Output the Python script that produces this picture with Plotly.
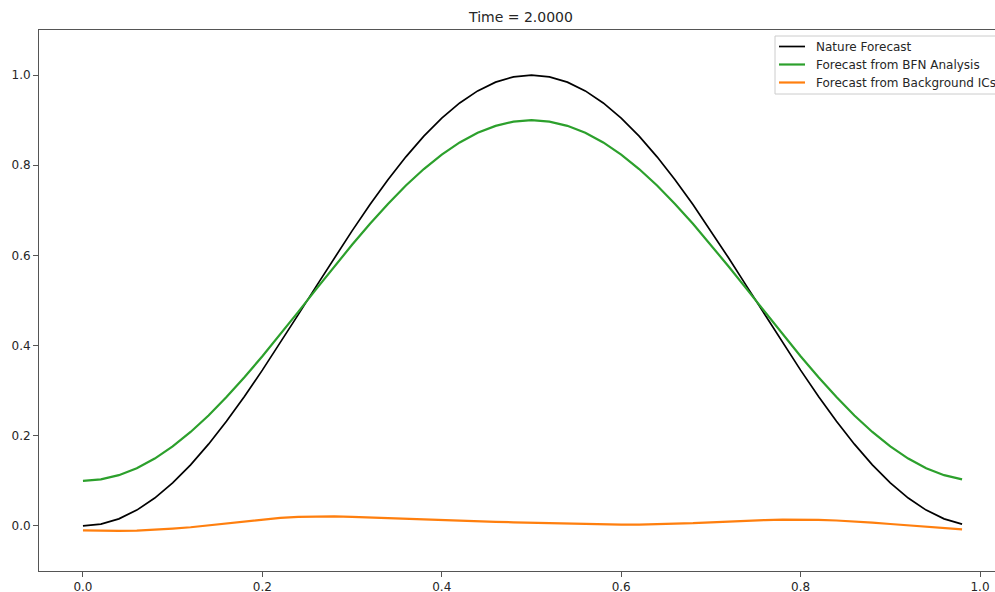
import plotly.graph_objects as go

x_vals = [0.00, 0.02, 0.04, 0.06, 0.08, 0.10, 0.12, 0.14, 0.16, 0.18,
          0.20, 0.22, 0.24, 0.26, 0.28, 0.30, 0.32, 0.34, 0.36, 0.38,
          0.40, 0.42, 0.44, 0.46, 0.48, 0.50, 0.52, 0.54, 0.56, 0.58,
          0.60, 0.62, 0.64, 0.66, 0.68, 0.70, 0.72, 0.74, 0.76, 0.78,
          0.80, 0.82, 0.84, 0.86, 0.88, 0.90, 0.92, 0.94, 0.96, 0.98]

nature = [0.0000, 0.0039, 0.0157, 0.0351, 0.0618, 0.0955, 0.1355, 0.1813, 0.2321, 0.2871,
          0.3455, 0.4063, 0.4686, 0.5314, 0.5937, 0.6545, 0.7129, 0.7679, 0.8187, 0.8645,
          0.9045, 0.9382, 0.9649, 0.9843, 0.9961, 1.0000, 0.9961, 0.9843, 0.9649, 0.9382,
          0.9045, 0.8645, 0.8187, 0.7679, 0.7129, 0.6545, 0.5937, 0.5314, 0.4686, 0.4063,
          0.3455, 0.2871, 0.2321, 0.1813, 0.1355, 0.0955, 0.0618, 0.0351, 0.0157, 0.0039]

bfn = [0.1000, 0.1032, 0.1126, 0.1281, 0.1494, 0.1764, 0.2084, 0.2450, 0.2857, 0.3297,
       0.3764, 0.4250, 0.4749, 0.5251, 0.5750, 0.6236, 0.6703, 0.7143, 0.7550, 0.7916,
       0.8236, 0.8506, 0.8719, 0.8874, 0.8969, 0.9000, 0.8969, 0.8874, 0.8719, 0.8506,
       0.8236, 0.7916, 0.7550, 0.7143, 0.6703, 0.6236, 0.5750, 0.5251, 0.4749, 0.4250,
       0.3764, 0.3297, 0.2857, 0.2450, 0.2084, 0.1764, 0.1494, 0.1281, 0.1126, 0.1032]

background = [-0.0100, -0.0110, -0.0110, -0.0105, -0.0090, -0.0060, -0.0030, 0.0010, 0.0060, 0.0100,
              0.0140, 0.0180, 0.0200, 0.0210, 0.0210, 0.0200, 0.0185, 0.0165, 0.0150, 0.0135,
              0.0120, 0.0110, 0.0100, 0.0090, 0.0080, 0.0070, 0.0060, 0.0050, 0.0040, 0.0035,
              0.0030, 0.0030, 0.0035, 0.0045, 0.0060, 0.0080, 0.0100, 0.0115, 0.0130, 0.0138,
              0.0140, 0.0135, 0.0120, 0.0100, 0.0072, 0.0042, 0.0012, -0.0020, -0.0050, -0.0075]

series_names = ["Nature Forecast", "Forecast from BFN Analysis", "Forecast from Background ICs"]
series_colors = ["#000000", "#2ca02c", "#ff7f0e"]
series_widths = [1.7, 2.2, 2.2]
x_ticks = [0.0, 0.2, 0.4, 0.6, 0.8, 1.0]
y_ticks = [0.0, 0.2, 0.4, 0.6, 0.8, 1.0]
title_text = "Time = 2.0000"

W, H = 995, 592
L, T, B = 39, 30, 21
plot_w = W - L
plot_h = H - T - B

fig = go.Figure()
for ys, name, col, lw in zip([nature, bfn, background], series_names, series_colors, series_widths):
    fig.add_trace(go.Scatter(x=x_vals, y=ys, mode="lines", name=name,
                             line=dict(color=col, width=lw), showlegend=False))


def px_x(p):
    return (p - L) / plot_w


def px_y(p):
    return 1 - (p - T) / plot_h


# legend drawn manually so that it can run past the right edge like the reference
shapes = [dict(type="rect", xref="paper", yref="paper",
               x0=px_x(775), x1=px_x(1010), y0=px_y(94), y1=px_y(36),
               line=dict(color="#cccccc", width=1), fillcolor="rgba(255,255,255,0.85)", layer="above")]
annotations = []
row_y = [46.5, 64.5, 82.5]
for name, col, lw, ry in zip(series_names, series_colors, series_widths, row_y):
    shapes.append(dict(type="line", xref="paper", yref="paper",
                       x0=px_x(779), x1=px_x(805), y0=px_y(ry), y1=px_y(ry),
                       line=dict(color=col, width=lw), layer="above"))
    annotations.append(dict(text=name, xref="paper", yref="paper", x=px_x(814), y=px_y(ry),
                            xanchor="left", yanchor="middle", showarrow=False,
                            font=dict(family="DejaVu Sans", size=12, color="#262626")))

axis_font = dict(family="DejaVu Sans", size=12, color="#262626")
fig.update_layout(
    width=W, height=H,
    margin=dict(l=L, r=0, t=T, b=B, autoexpand=False),
    plot_bgcolor="white", paper_bgcolor="white",
    font=dict(family="DejaVu Sans", size=12, color="#262626"),
    title=dict(text=title_text, x=521 / W, xanchor="center", xref="container",
               y=1 - 17 / H, yanchor="middle", font=dict(family="DejaVu Sans", size=14, color="#262626")),
    showlegend=False,
    shapes=shapes,
    annotations=annotations,
)
fig.update_xaxes(range=[-0.049, (W - 83) / 897], tickvals=x_ticks,
                 ticktext=[f"{v:.1f}" for v in x_ticks], automargin=False,
                 showgrid=False, zeroline=False, showline=True, linecolor="#555555", linewidth=1,
                 mirror=True, ticks="outside", ticklen=5, tickcolor="#555555", tickfont=axis_font)
fig.update_yaxes(range=[-0.1, 1.1], tickvals=y_ticks,
                 ticktext=[f"{v:.1f}" for v in y_ticks], automargin=False,
                 showgrid=False, zeroline=False, showline=True, linecolor="#555555", linewidth=1,
                 mirror=False, ticks="outside", ticklen=5, tickcolor="#555555", tickfont=axis_font)

fig.write_html("out.html")
